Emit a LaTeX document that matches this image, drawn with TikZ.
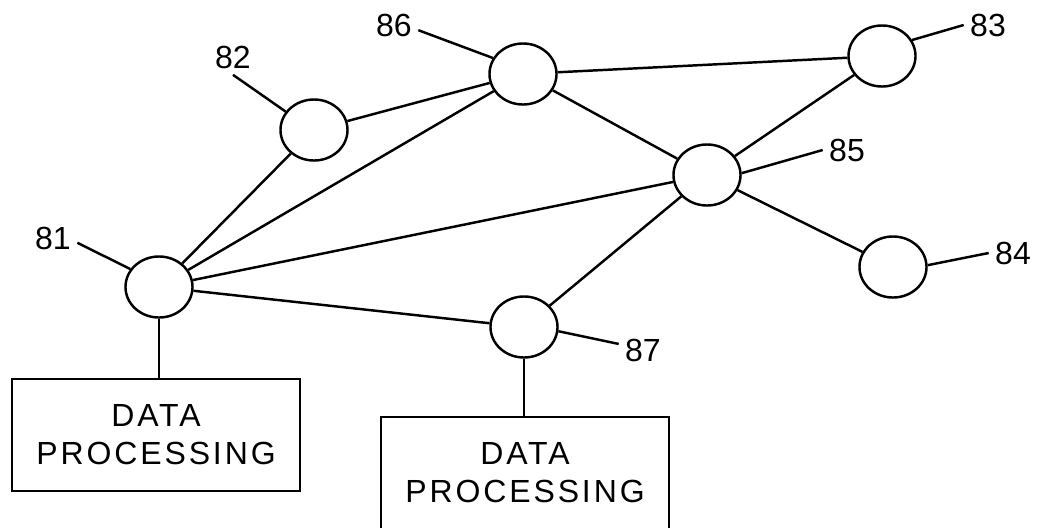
\documentclass[tikz,border=0pt]{standalone}
\usepackage{fontspec}
\setmainfont{Liberation Sans}
\newfontfamily\boxfont[LetterSpace=9]{Liberation Sans}
\usetikzlibrary{shapes.geometric}
\begin{document}
\begin{tikzpicture}[x=0.01cm, y=-0.01cm, line width=0.7pt,
	station/.style={draw, ellipse, minimum width=0.67cm, minimum height=0.61cm, inner sep=0pt},
	num/.style={inner sep=1.5pt, font=\fontsize{9.1}{11}\selectfont},
	dpbox/.style={draw, rectangle, minimum width=2.88cm, minimum height=1.12cm, align=center,
		font=\boxfont\fontsize{9.1}{10.8}\selectfont}]
	\useasboundingbox (0,0) rectangle (1042,527);

	\draw (159,287) node[station] (n81) {};
	\draw (314,130) node[station] (n82) {};
	\draw (882,56)  node[station] (n83) {};
	\draw (893,267) node[station] (n84) {};
	\draw (707,175) node[station] (n85) {};
	\draw (523,74)  node[station] (n86) {};
	\draw (524,327) node[station] (n87) {};

	\draw (156,435) node[dpbox] (dp1) {DATA\\PROCESSING};
	\draw (525,473) node[dpbox] (dp2) {DATA\\PROCESSING};

	\draw (53,238)  node[num] (l81) {81};
	\draw (233,57)  node[num] (l82) {82};
	\draw (988,25)  node[num] (l83) {83};
	\draw (1013,253) node[num] (l84) {84};
	\draw (847,150) node[num] (l85) {85};
	\draw (394,25)  node[num] (l86) {86};
	\draw (643,350) node[num] (l87) {87};

	\draw (n81) -- (n82);
	\draw (n81) -- (n86);
	\draw (n81) -- (n85);
	\draw (n81) -- (n87);
	\draw (n82) -- (n86);
	\draw (n86) -- (n83);
	\draw (n86) -- (n85);
	\draw (n85) -- (n83);
	\draw (n85) -- (n84);
	\draw (n85) -- (n87);

	\draw (n81.south) -- (n81.south |- dp1.north);
	\draw (n87.south) -- (n87.south |- dp2.north);

	\draw (l81.-11) -- (n81.148);
	\draw (l82.south) -- (n82.147);
	\draw (l86.-12) -- (n86.152);
	\draw (l83.west) -- (n83.28);
	\draw (l85.west) -- (n85.3);
	\draw (l84.west) -- (n84.3);
	\draw (l87.166) -- (n87.-7);
\end{tikzpicture}
\end{document}
